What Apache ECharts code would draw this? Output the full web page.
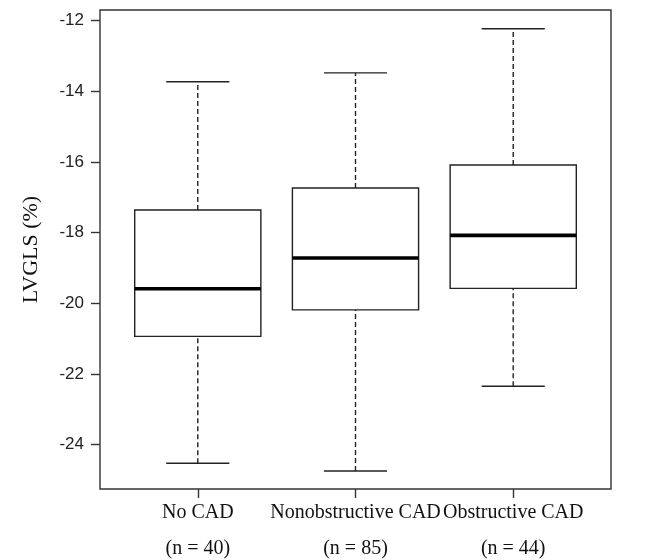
<!DOCTYPE html>
<html>
<head>
<meta charset="utf-8">
<script src="https://cdn.jsdelivr.net/npm/echarts@6/dist/echarts.min.js"></script>
<style>html,body{margin:0;padding:0;background:#fff;}#chart{width:646px;height:560px;}</style>
</head>
<body>
<div id="chart"></div>
<script>
// ---- data ----
var categories = ['No CAD', 'Nonobstructive CAD', 'Obstructive CAD'];
var sampleSizes = ['(n = 40)', '(n = 85)', '(n = 44)'];
var whiskerLow = [-24.53, -24.75, -22.35];
var q1 = [-20.94, -20.19, -19.58];
var median = [-19.59, -18.72, -18.08];
var q3 = [-17.36, -16.74, -16.09];
var whiskerHigh = [-13.73, -13.48, -12.23];
var yTicks = [-24, -22, -20, -18, -16, -14, -12];
var xPositions = [1, 2, 3];

var boxData = categories.map(function (c, i) {
  return [xPositions[i], whiskerLow[i], q1[i], median[i], q3[i], whiskerHigh[i]];
});

var BOX_HALF = 0.4, CAP_HALF = 0.2;
var lineCol = '#222';

function renderItem(params, api) {
  var x = api.value(0);
  var lo = api.value(1), a = api.value(2), m = api.value(3), b = api.value(4), hi = api.value(5);
  var c = function (xx, yy) { return api.coord([xx, yy]); };
  var pLoC = c(x, lo), pA = c(x, a), pB = c(x, b), pHiC = c(x, hi);
  var boxL = c(x - BOX_HALF, b), boxR = c(x + BOX_HALF, a);
  var capL = c(x - CAP_HALF, lo)[0], capR = c(x + CAP_HALF, lo)[0];
  var medL = c(x - BOX_HALF, m), medR = c(x + BOX_HALF, m);
  var dash = { stroke: lineCol, lineWidth: 1.4, lineDash: [5, 3] };
  var solid = { stroke: lineCol, lineWidth: 1.4 };
  return {
    type: 'group',
    children: [
      { type: 'line', shape: { x1: pB[0], y1: pB[1], x2: pHiC[0], y2: pHiC[1] }, style: dash },
      { type: 'line', shape: { x1: pLoC[0], y1: pLoC[1], x2: pA[0], y2: pA[1] }, style: dash },
      { type: 'line', shape: { x1: capL, y1: pHiC[1], x2: capR, y2: pHiC[1] }, style: solid },
      { type: 'line', shape: { x1: capL, y1: pLoC[1], x2: capR, y2: pLoC[1] }, style: solid },
      { type: 'rect', shape: { x: boxL[0], y: boxL[1], width: boxR[0] - boxL[0], height: boxR[1] - boxL[1] },
        style: { fill: '#fff', stroke: lineCol, lineWidth: 1.4 } },
      { type: 'line', shape: { x1: medL[0], y1: medL[1], x2: medR[0], y2: medR[1] },
        style: { stroke: '#000', lineWidth: 3.6 } }
    ]
  };
}

var chart = echarts.init(document.getElementById('chart'), null, { renderer: 'canvas' });
chart.setOption({
  animation: false,
  backgroundColor: '#fff',
  grid: {
    left: 100, top: 10, width: 511, height: 479, containLabel: false, outerBoundsMode: 'none',
    show: true, borderColor: '#333', borderWidth: 1.4, backgroundColor: 'transparent'
  },
  xAxis: {
    type: 'value', min: 0.38, max: 3.62,
    axisLine: { show: false },
    splitLine: { show: false },
    axisTick: { show: true, customValues: xPositions, length: 9, lineStyle: { color: '#333', width: 1.4 } },
    axisLabel: {
      customValues: xPositions, hideOverlap: false, showMinLabel: true, showMaxLabel: true,
      formatter: function (v) { var i = Math.round(v) - 1; return categories[i] + '\n' + sampleSizes[i]; },
      fontFamily: 'Liberation Serif', fontSize: 20, lineHeight: 36, color: '#111', margin: 6
    }
  },
  yAxis: {
    type: 'value', min: -25.26, max: -11.70,
    name: 'LVGLS (%)', nameLocation: 'middle', nameGap: 58, nameRotate: 90,
    nameTextStyle: { fontFamily: 'Liberation Serif', fontSize: 22, color: '#111' },
    axisLine: { show: false },
    splitLine: { show: false },
    axisTick: { show: true, customValues: yTicks, length: 9, lineStyle: { color: '#333', width: 1.4 } },
    axisLabel: { customValues: yTicks, fontFamily: 'Liberation Sans', fontSize: 17, color: '#222', margin: 16 }
  },
  series: [{
    type: 'custom',
    renderItem: renderItem,
    encode: { x: 0, y: [1, 2, 3, 4, 5] },
    data: boxData,
    clip: false
  }]
});
</script>
</body>
</html>
